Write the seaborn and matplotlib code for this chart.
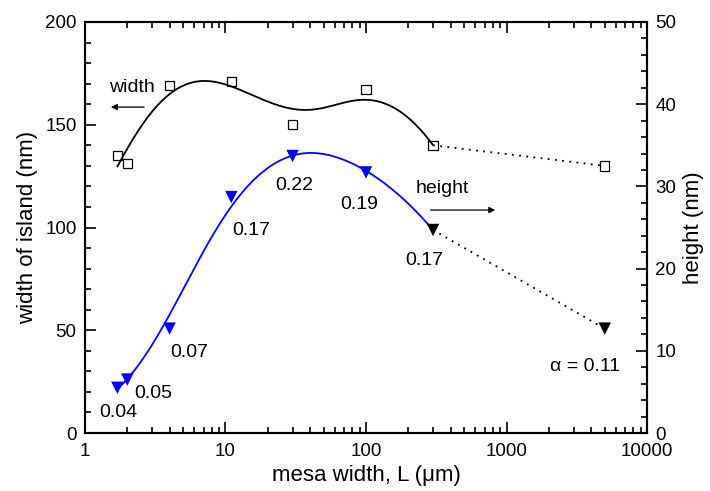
import numpy as np
import pandas as pd
import matplotlib.pyplot as plt
import seaborn as sns
from matplotlib.ticker import MultipleLocator, LogLocator, NullFormatter

# data
mesa_L = [1.7, 2, 4, 11, 30, 100, 300, 5000]
island_width = [135, 131, 169, 171, 150, 167, 140, 130]
island_height = [5.5, 6.5, 12.7, 28.7, 33.7, 31.7, 24.7, 12.7]
alpha_labels = ['0.04', '0.05', '0.07', '0.17', '0.22', '0.19', '0.17', 'α = 0.11']
# label offsets (points) relative to each triangle
alpha_offsets = [(1, -18), (19, -10), (14, -17), (14, -24), (1, -21), (-5, -23), (-6, -22), (-14, -27)]

sns.set_style("ticks")
plt.rcParams['font.family'] = ['Liberation Sans', 'DejaVu Sans']
for k in ['text.color', 'axes.labelcolor', 'xtick.color', 'ytick.color', 'axes.edgecolor']:
    plt.rcParams[k] = 'black'


def smooth(xq, x, y, sigma=0.4):
    # local quadratic regression (gaussian weights) in log10(L)
    out = []
    for q in xq:
        w = np.exp(-0.5 * ((x - q) / sigma) ** 2)
        out.append(np.polyval(np.polyfit(x, y, 2, w=np.sqrt(w)), q))
    return np.array(out)


df = pd.DataFrame({'L': mesa_L, 'width': island_width, 'height': island_height})
fitted = df.iloc[:7]   # smooth curves only go to 300 um
far = df.iloc[6:]      # dotted part

lx = np.log10(fitted['L'].values)
lq = np.linspace(lx.min(), lx.max(), 200)
curve = pd.DataFrame({'L': 10 ** lq,
                      'width': smooth(lq, lx, fitted['width'].values),
                      'height': smooth(lq, lx, fitted['height'].values)})

fig = plt.figure(figsize=(7.1, 4.91), dpi=100)
ax = fig.add_axes([0.1197, 0.1181, 0.7916, 0.8371])
ax2 = ax.twinx()

# width (left axis)
sns.lineplot(data=curve, x='L', y='width', ax=ax, color='black', lw=1.3, sort=False)
sns.lineplot(data=far, x='L', y='width', ax=ax, color='black', lw=1.3, linestyle=(0, (1, 3)))
sns.scatterplot(data=df, x='L', y='width', ax=ax, marker='s', s=45,
                facecolor='none', edgecolor='black', linewidth=0.9, zorder=5)

# height (right axis)
sns.lineplot(data=curve, x='L', y='height', ax=ax2, color='#0000ff', lw=1.3, sort=False)
sns.lineplot(data=far, x='L', y='height', ax=ax2, color='black', lw=1.3, linestyle=(0, (1, 3)))
sns.scatterplot(data=fitted.iloc[:6], x='L', y='height', ax=ax2, marker='v', s=80,
                color='#0000ff', edgecolor='none', zorder=5)
sns.scatterplot(data=far, x='L', y='height', ax=ax2, marker='v', s=80,
                color='black', edgecolor='none', zorder=5)

for xv, yv, lab, off in zip(mesa_L, island_height, alpha_labels, alpha_offsets):
    ax2.annotate(lab, (xv, yv), xytext=off, textcoords='offset points',
                 ha='center', va='center', fontsize=14)

# "width" / "height" arrows
ax.text(2.16, 168, 'width', ha='center', va='center', fontsize=14)
ax.annotate('', xy=(1.46, 158.6), xytext=(2.76, 158.6),
            arrowprops=dict(arrowstyle='-|>', color='black', lw=0.9, mutation_scale=9))
ax.text(347, 119, 'height', ha='center', va='center', fontsize=14)
ax.annotate('', xy=(870, 108.5), xytext=(276, 108.5),
            arrowprops=dict(arrowstyle='-|>', color='black', lw=0.9, mutation_scale=9))

ax.set_xscale('log')
ax.set_xlim(1, 10000)
ax.set_ylim(0, 200)
ax2.set_ylim(0, 50)
ax.set_xticks([1, 10, 100, 1000, 10000])
ax.set_xticklabels(['1', '10', '100', '1000', '10000'])
ax.xaxis.set_minor_locator(LogLocator(base=10, subs=np.arange(2, 10), numticks=20))
ax.xaxis.set_minor_formatter(NullFormatter())
ax.yaxis.set_major_locator(MultipleLocator(50))
ax.yaxis.set_minor_locator(MultipleLocator(10))
ax2.yaxis.set_major_locator(MultipleLocator(10))
ax2.yaxis.set_minor_locator(MultipleLocator(2))

ax.tick_params(which='both', direction='in', top=True, right=False, width=1.2, labelsize=13.5)
ax.tick_params(axis='x', pad=7)
ax.tick_params(axis='y', pad=6)
ax.tick_params(which='major', length=8)
ax.tick_params(which='minor', length=4)
ax2.tick_params(which='both', direction='in', width=1.2, labelsize=13.5, pad=6)
ax2.tick_params(which='major', length=8)
ax2.tick_params(which='minor', length=4)

for a in (ax, ax2):
    for sp in a.spines.values():
        sp.set_visible(True)
        sp.set_linewidth(1.5)

ax.set_xlabel('mesa width, L (μm)', fontsize=16, labelpad=4)
ax.set_ylabel('width of island (nm)', fontsize=16, labelpad=5)
ax2.set_ylabel('height (nm)', fontsize=16, labelpad=5)

fig.savefig('out.png', dpi=100)
